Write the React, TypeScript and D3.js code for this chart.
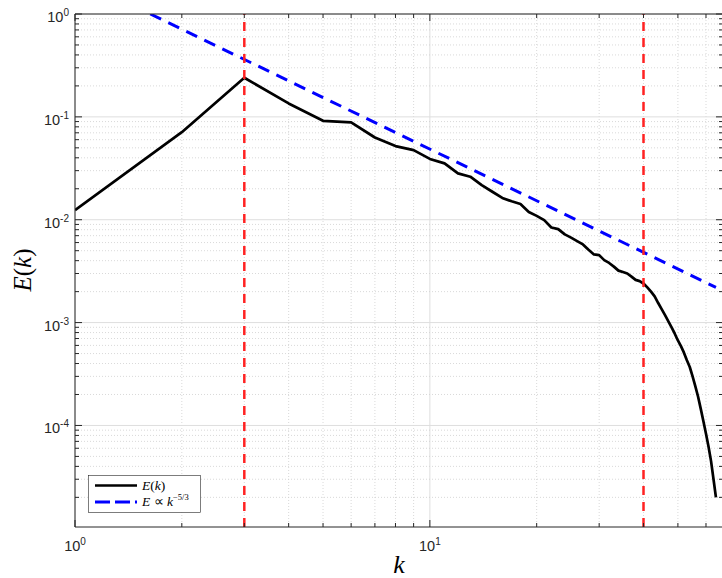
import React from "react";
import * as d3 from "d3";

// wavenumbers and the measured energy spectrum E(k)
const kValues = [
  1, 2, 3, 4, 5, 6, 7, 8, 9, 10, 11, 12, 13, 14, 15, 16, 17, 18, 19, 20, 21, 22,
  23, 24, 25, 26, 27, 28, 29, 30, 31, 32, 33, 34, 35, 36, 37, 38, 39, 40, 41, 42,
  43, 44, 45, 46, 47, 48, 49, 50, 51, 52, 53, 54, 55, 56, 57, 58, 59, 60, 61, 62,
  63, 64,
];
const energy = [
  0.0124, 0.071, 0.24, 0.135, 0.0916, 0.0883, 0.063, 0.052, 0.0475, 0.039,
  0.0353, 0.0282, 0.0262, 0.0217, 0.0187, 0.0163, 0.0151, 0.0142, 0.0119, 0.0109,
  0.0099, 0.0084, 0.0081, 0.0072, 0.0067, 0.0062, 0.00575, 0.0051, 0.0046, 0.00453,
  0.00405, 0.0038, 0.0035, 0.0032, 0.0031, 0.003, 0.0028, 0.0026, 0.00253, 0.0024,
  0.0022, 0.002, 0.0018, 0.00155, 0.00135, 0.00118, 0.00103, 0.0009, 0.00078,
  0.00067, 0.00059, 0.00051, 0.00043, 0.00037, 0.0003, 0.00024, 0.00019, 0.000145,
  0.00011, 0.000083, 0.000062, 0.000045, 0.00003, 0.00002,
];

// reference slope line E ~ k^(-5/3), end points
const refK = [1.63, 64];
const refE = [1.0, 0.0022];

// vertical markers
const markerK = [3, 40];

const W = 722;
const H = 578;
const left = 75;
const right = 723;
const top = 14;
const bottom = 527;

const AXIS = "#262626";
const sans = "'Liberation Sans', Arial, Helvetica, sans-serif";
const serif = "'Liberation Serif', 'Times New Roman', serif";

export default function App() {
  const x = d3.scaleLog().domain([1, 67]).range([left, right]);
  // lower limit sits just above 1e-5, so that decade gets no label
  const y = d3.scaleLog().domain([1.03e-5, 1]).range([bottom, top]);

  const xTicks = x.ticks();
  const yTicks = y.ticks();
  const isMajor = (v: number) => Math.abs(Math.log10(v) - Math.round(Math.log10(v))) < 1e-9;

  const line = d3
    .line<[number, number]>()
    .x((d) => x(d[0]))
    .y((d) => y(d[1]));

  const spectrum = kValues.map((k, i) => [k, energy[i]] as [number, number]);
  const refLine = refK.map((k, i) => [k, refE[i]] as [number, number]);
  const [yMin, yMax] = y.domain();

  return (
    <svg
      width={W}
      height={H}
      style={{ position: "absolute", left: 0, top: 0, background: "#fff" }}
    >
      <defs>
        <clipPath id="plot">
          <rect x={left} y={top} width={right - left} height={bottom - top} />
        </clipPath>
      </defs>
      <rect x={0} y={0} width={W} height={H} fill="#fff" />

      {/* grid */}
      <g>
        {xTicks.map((t, i) => (
          <line
            key={"gx" + i}
            x1={x(t)}
            x2={x(t)}
            y1={top}
            y2={bottom}
            stroke={isMajor(t) ? "#dedede" : "#cfcfcf"}
            strokeWidth={isMajor(t) ? 1 : 0.8}
            strokeDasharray={isMajor(t) ? undefined : "1,2"}
          />
        ))}
        {yTicks.map((t, i) => (
          <line
            key={"gy" + i}
            x1={left}
            x2={right}
            y1={y(t)}
            y2={y(t)}
            stroke={isMajor(t) ? "#dedede" : "#cfcfcf"}
            strokeWidth={isMajor(t) ? 1 : 0.8}
            strokeDasharray={isMajor(t) ? undefined : "1,2"}
          />
        ))}
      </g>

      {/* data */}
      <g clipPath="url(#plot)">
        <path
          d={line(spectrum) || ""}
          fill="none"
          stroke="#000"
          strokeWidth={2.7}
          strokeLinejoin="round"
        />
        <path
          d={line(refLine) || ""}
          fill="none"
          stroke="#0000ff"
          strokeWidth={3}
          strokeDasharray="12,8"
        />
        {markerK.map((k) => (
          <line
            key={"m" + k}
            x1={x(k)}
            x2={x(k)}
            y1={y(yMin)}
            y2={y(yMax)}
            stroke="#ff2222"
            strokeWidth={2.5}
            strokeDasharray="9,7"
          />
        ))}
      </g>

      {/* axes box */}
      <g stroke={AXIS} strokeWidth={1} fill="none">
        <line x1={left} x2={right} y1={bottom} y2={bottom} />
        <line x1={left} x2={right} y1={top} y2={top} />
        <line x1={left} x2={left} y1={top} y2={bottom} />
        <line x1={right} x2={right} y1={top} y2={bottom} />
        {xTicks.map((t, i) => {
          const len = isMajor(t) ? 7 : 4;
          return (
            <g key={"tx" + i}>
              <line x1={x(t)} x2={x(t)} y1={bottom} y2={bottom - len} />
              <line x1={x(t)} x2={x(t)} y1={top} y2={top + len} />
            </g>
          );
        })}
        {yTicks.map((t, i) => {
          const len = isMajor(t) ? 7 : 4;
          return (
            <g key={"ty" + i}>
              <line x1={left} x2={left + len} y1={y(t)} y2={y(t)} />
              <line x1={right} x2={right - len} y1={y(t)} y2={y(t)} />
            </g>
          );
        })}
      </g>

      {/* tick labels */}
      <g fontFamily={sans} fill={AXIS} fontSize={14.5}>
        {xTicks.filter(isMajor).map((t, i) => (
          <text key={"lx" + i} x={x(t)} y={551} textAnchor="middle">
            10
            <tspan fontSize={10} dy={-6}>
              {Math.round(Math.log10(t))}
            </tspan>
          </text>
        ))}
        {yTicks.filter(isMajor).map((t, i) => (
          <text key={"ly" + i} x={69} y={y(t) + 8} textAnchor="end">
            10
            <tspan fontSize={10} dy={-6}>
              {String(Math.round(Math.log10(t)))}
            </tspan>
          </text>
        ))}
      </g>

      {/* axis labels */}
      <text
        transform="translate(31,270) rotate(-90)"
        textAnchor="middle"
        fontFamily={serif}
        fontSize={25}
        fill="#000"
      >
        <tspan fontStyle="italic">E</tspan>(<tspan fontStyle="italic">k</tspan>)
      </text>
      <text
        x={399}
        y={573}
        textAnchor="middle"
        fontFamily={serif}
        fontStyle="italic"
        fontSize={26}
        fill="#000"
      >
        k
      </text>

      {/* legend */}
      <g>
        <rect x={88.5} y={475.5} width={112} height={37} fill="#fff" stroke={AXIS} strokeWidth={0.6} />
        <line x1={95} x2={137} y1={485.5} y2={485.5} stroke="#000" strokeWidth={2.7} />
        <line
          x1={95}
          x2={137}
          y1={502}
          y2={502}
          stroke="#0000ff"
          strokeWidth={3}
          strokeDasharray="15,5"
        />
        <text x={142} y={490} fontFamily={serif} fontSize={13.5} fill="#000">
          <tspan fontStyle="italic">E</tspan>(<tspan fontStyle="italic">k</tspan>)
        </text>
        <text x={142} y={506} fontFamily={serif} fontSize={13.5} fill="#000">
          <tspan fontStyle="italic">E</tspan> ∝ <tspan fontStyle="italic">k</tspan>
          <tspan fontSize={8.5} dy={-6}>
            −5/3
          </tspan>
        </text>
      </g>
    </svg>
  );
}
